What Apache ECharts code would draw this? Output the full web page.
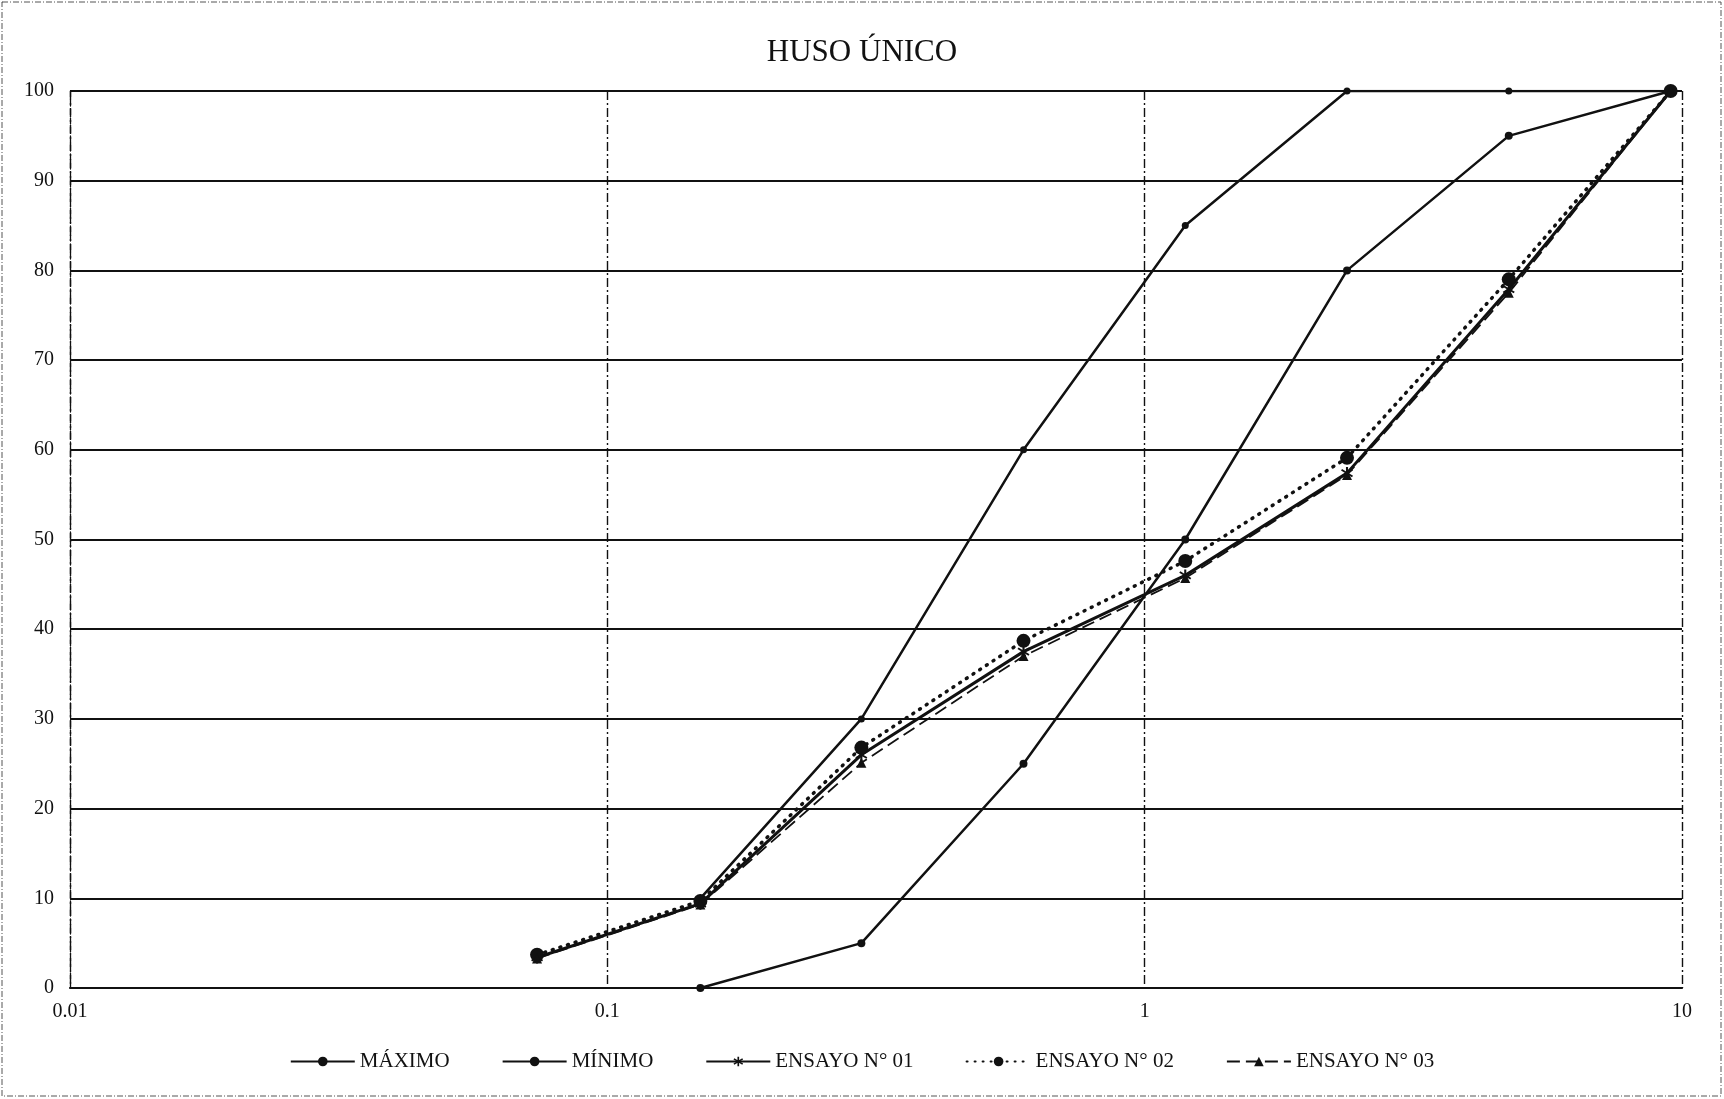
<!DOCTYPE html>
<html>
<head>
<meta charset="utf-8">
<title>HUSO ÚNICO</title>
<script src="https://cdn.jsdelivr.net/npm/echarts@6/dist/echarts.min.js"></script>
<style>
  html, body { margin: 0; padding: 0; background: #fff; }
  #chart { width: 1724px; height: 1099px; }
</style>
</head>
<body>
<div id="chart"></div>
<script>
// Sieve openings (mm) and percent passing for each curve
const sieveSizes = [0.074, 0.149, 0.297, 0.595, 1.19, 2.38, 4.76, 9.525];
const maximo  = [null, 10, 30, 60, 85, 100, 100, 100];
const minimo  = [null, 0, 5, 25, 50, 80, 95, 100];
const ensayo01 = [3.4, 9.4, 26.0, 37.5, 46.0, 57.4, 77.9, 100];
const ensayo02 = [3.7, 9.7, 26.8, 38.7, 47.6, 59.1, 79.0, 100];
const ensayo03 = [3.3, 9.3, 25.1, 37.0, 45.7, 57.2, 77.5, 100];
const yTicks = [0, 10, 20, 30, 40, 50, 60, 70, 80, 90, 100];

const FONT = '"Liberation Serif", "DejaVu Serif", serif';
const INK = '#111';

function pairs(values) {
  return sieveSizes.map((x, i) => [x, values[i]]).filter(p => p[1] !== null);
}

// Asterisk marker for ENSAYO N° 01
const asterisk = 'path://M-0.8,-5L0.8,-5L0.8,5L-0.8,5Z' +
  'M-4.6,-2.1L-3.8,-3.4L4.6,2.1L3.8,3.4Z' +
  'M-4.6,2.1L3.8,-3.4L4.6,-2.1L-3.8,3.4Z';

const chart = echarts.init(document.getElementById('chart'), null, { renderer: 'canvas' });

chart.setOption({
  backgroundColor: '#fff',
  animation: false,
  title: {
    text: 'HUSO ÚNICO',
    left: 'center',
    top: 32,
    textStyle: { fontFamily: FONT, fontSize: 31, fontWeight: 'normal', color: INK }
  },
  graphic: [{
    type: 'rect',
    shape: { x: 2, y: 2, width: 1719, height: 1094 },
    style: { fill: 'none', stroke: '#555', lineWidth: 1, lineDash: [6, 2, 1, 2] },
    silent: true
  }],
  grid: { left: 70, right: 42, top: 91, bottom: 111, containLabel: false },
  legend: {
    bottom: 22,
    left: 'center',
    itemWidth: 64,
    itemHeight: 12,
    itemGap: 52,
    textStyle: { fontFamily: FONT, fontSize: 21, color: INK },
    data: ['MÁXIMO', 'MÍNIMO', 'ENSAYO N° 01', 'ENSAYO N° 02', 'ENSAYO N° 03']
  },
  xAxis: {
    type: 'log',
    logBase: 10,
    min: 0.01,
    max: 10,
    axisLine: { show: true, lineStyle: { color: INK, width: 2.2 } },
    axisTick: { show: false },
    axisLabel: {
      fontFamily: FONT, fontSize: 20, color: INK, margin: 14,
      formatter: v => String(v)
    },
    splitLine: {
      show: true,
      lineStyle: { color: INK, width: 1.4, type: [9, 3, 2, 3] }
    }
  },
  yAxis: {
    type: 'value',
    min: yTicks[0],
    max: yTicks[yTicks.length - 1],
    interval: 10,
    axisLine: { show: true, lineStyle: { color: INK, width: 1.3, type: [6, 3] } },
    axisTick: { show: false },
    axisLabel: { fontFamily: FONT, fontSize: 20, color: INK, margin: 16 },
    splitLine: { show: true, lineStyle: { color: INK, width: 2, type: 'solid' } }
  },
  series: [
    {
      name: 'MÁXIMO', type: 'line', data: pairs(maximo),
      symbol: 'circle', symbolSize: 7,
      lineStyle: { color: INK, width: 2.5 },
      itemStyle: { color: INK }
    },
    {
      name: 'MÍNIMO', type: 'line', data: pairs(minimo),
      symbol: 'circle', symbolSize: 8,
      lineStyle: { color: INK, width: 2.5 },
      itemStyle: { color: INK }
    },
    {
      name: 'ENSAYO N° 01', type: 'line', data: pairs(ensayo01),
      symbol: asterisk, symbolSize: 12,
      lineStyle: { color: INK, width: 3 },
      itemStyle: { color: INK }
    },
    {
      name: 'ENSAYO N° 02', type: 'line', data: pairs(ensayo02),
      symbol: 'circle', symbolSize: 14,
      lineStyle: { color: INK, width: 3.5, type: [1, 7], cap: 'round' },
      itemStyle: { color: INK }
    },
    {
      name: 'ENSAYO N° 03', type: 'line', data: pairs(ensayo03),
      symbol: 'triangle', symbolSize: 10,
      lineStyle: { color: INK, width: 1.8, type: [13, 6] },
      itemStyle: { color: INK }
    }
  ]
});
</script>
</body>
</html>
